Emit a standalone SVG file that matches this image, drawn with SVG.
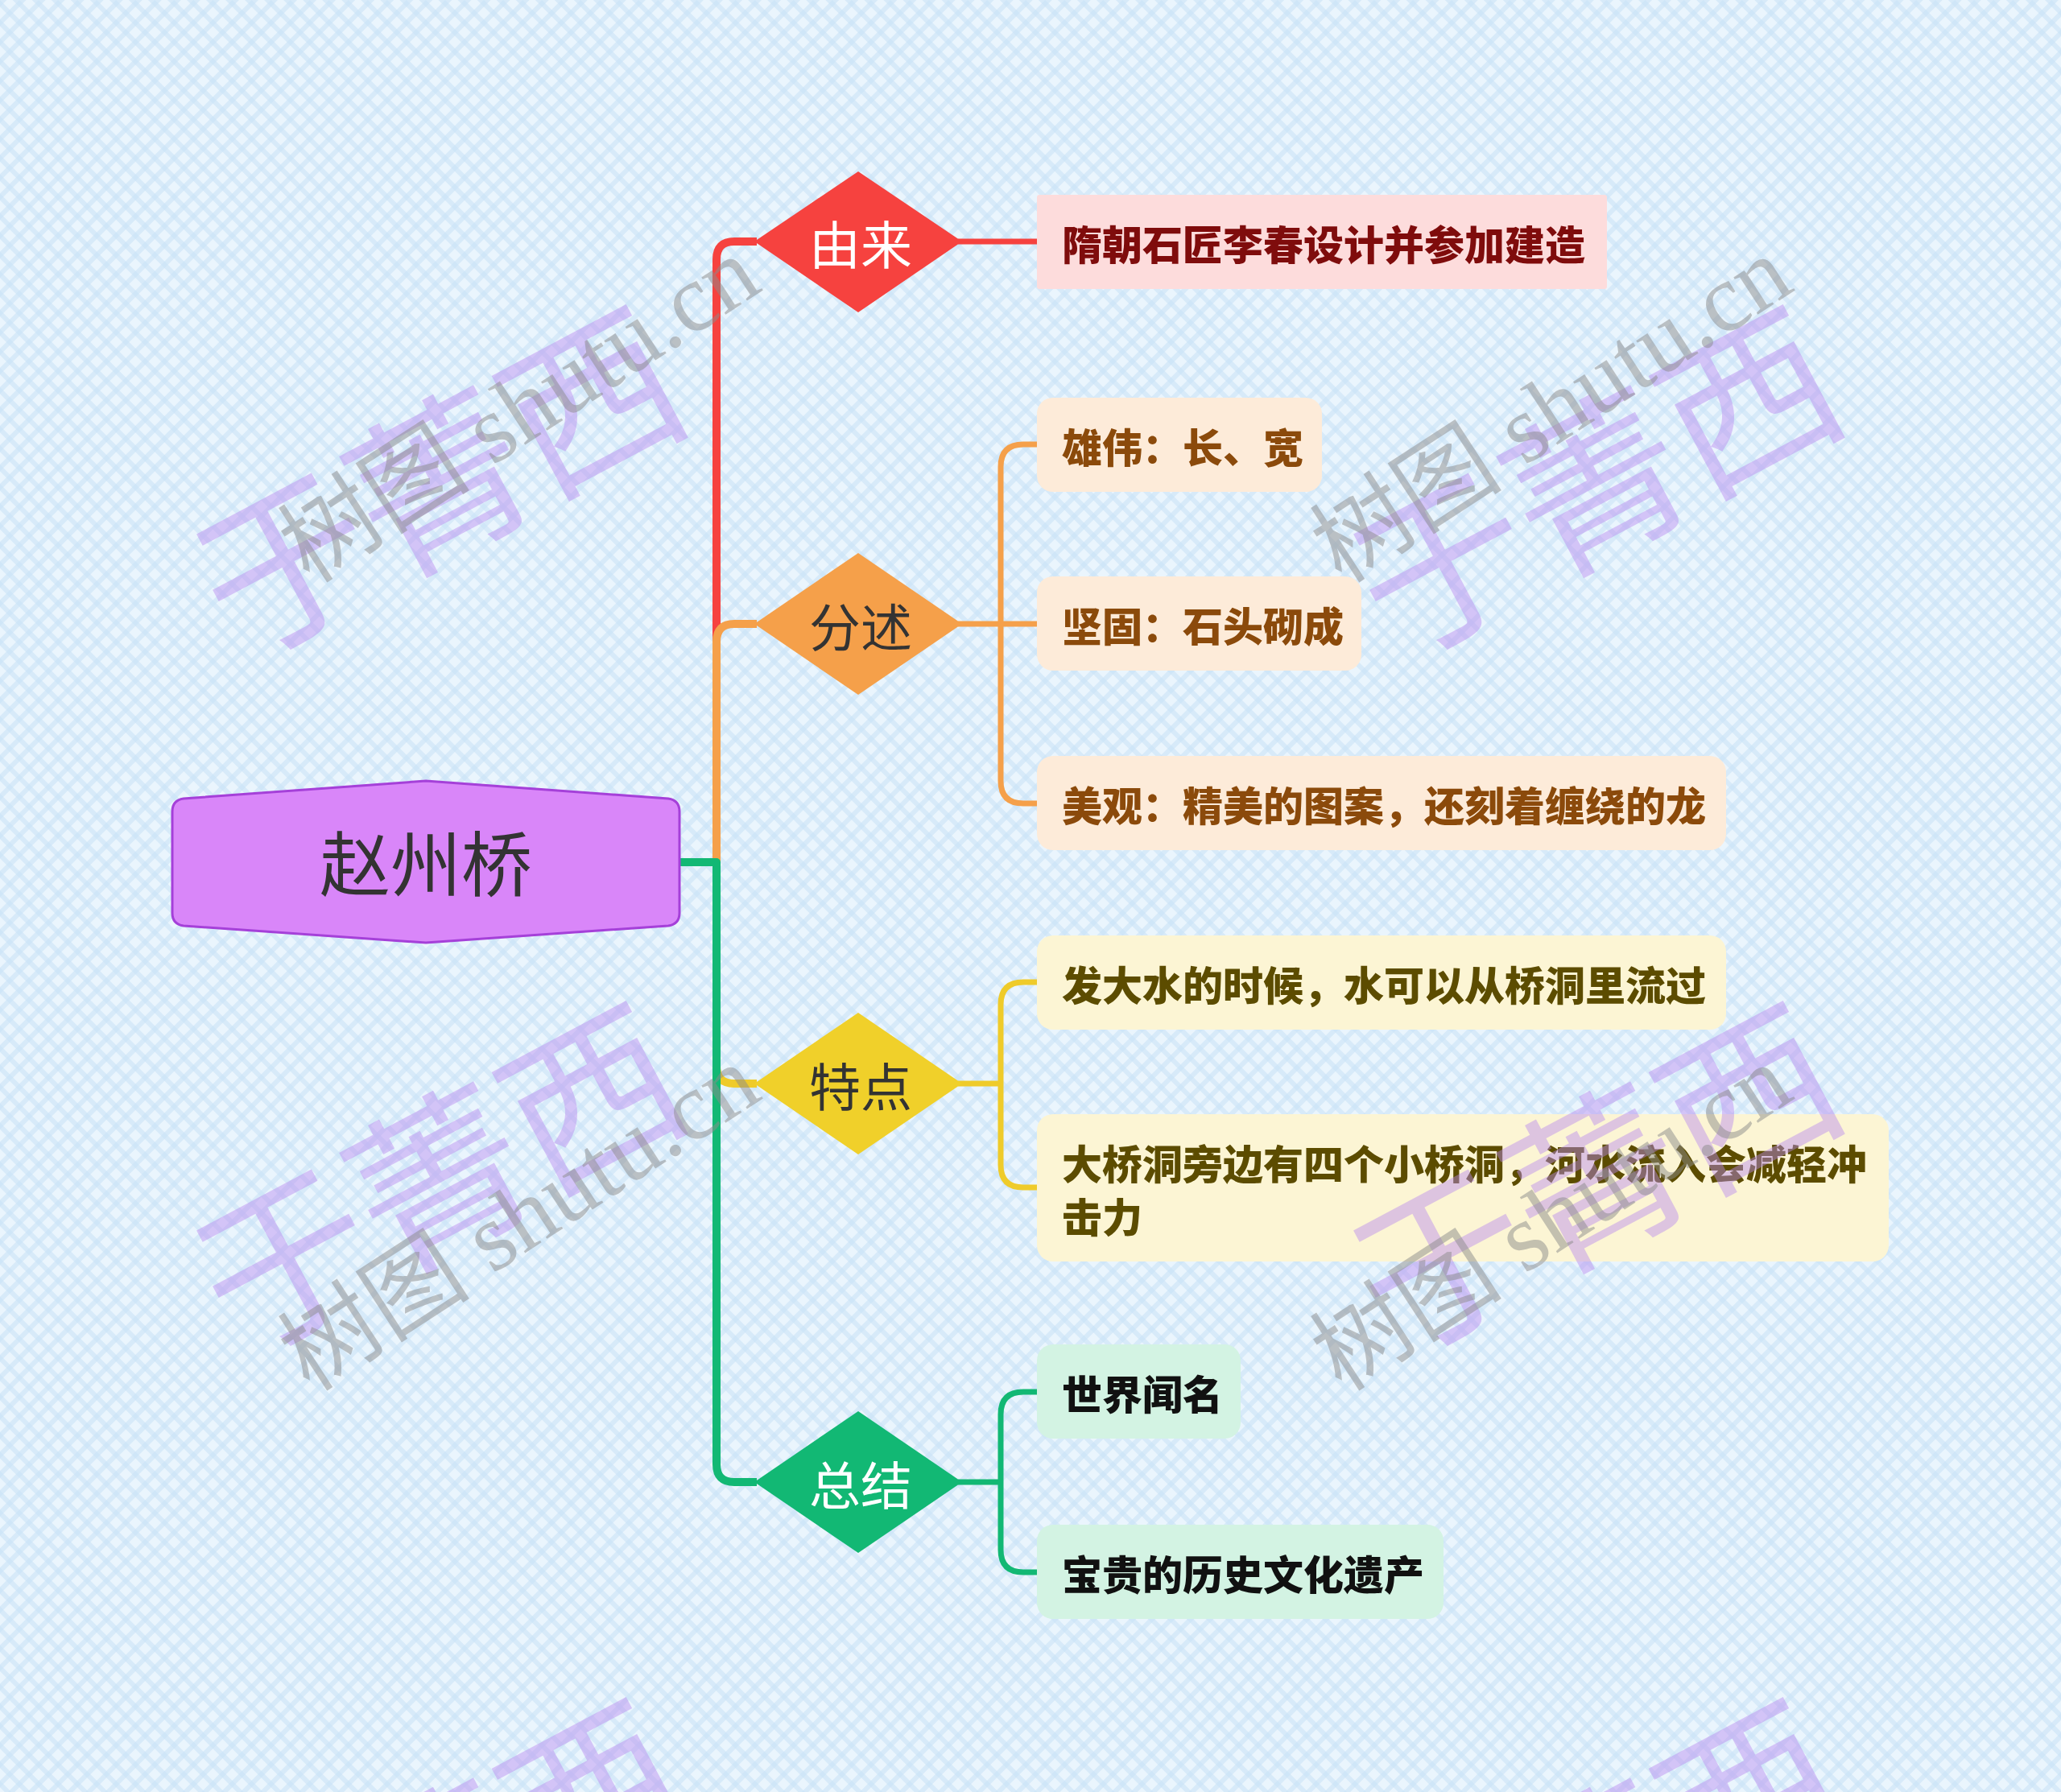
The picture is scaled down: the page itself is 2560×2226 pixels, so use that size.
<svg xmlns="http://www.w3.org/2000/svg" width="2560" height="2226" viewBox="0 0 2560 2226">
<defs>
<pattern id="bg" width="17" height="17" patternUnits="userSpaceOnUse" patternTransform="rotate(45)">
<rect width="17" height="17" fill="#EAF5FD"/>
<rect width="17" height="6" fill="#C9E3F6" opacity="0.6"/>
<rect width="6" height="17" fill="#C9E3F6" opacity="0.6"/>
</pattern>
<style>
.main{fill:none;stroke-width:10;stroke-linejoin:round}
.sub{fill:none;stroke-width:7;stroke-linejoin:round}
.dt{font-family:"Noto Sans CJK SC","Noto Sans",sans-serif;font-size:64px;text-anchor:middle;dominant-baseline:central}
.lt{font-family:"Noto Sans CJK SC","Noto Sans",sans-serif;font-size:50px;font-weight:900;dominant-baseline:central}
.wm1{font-family:"Noto Sans CJK SC",sans-serif;font-size:215px;fill:#B98AF0;opacity:0.45;text-anchor:middle;dominant-baseline:central}
.wm2{font-family:"Liberation Serif","Noto Sans CJK SC",serif;font-size:120px;fill:#8C8C8C;opacity:0.5;text-anchor:middle;dominant-baseline:central}
</style>
</defs>
<rect width="2560" height="2226" fill="url(#bg)"/>

<g id="connectors">
<path class="main" stroke="#F6423F" d="M844 1071 H890 V322 Q890 300 912 300 H940"/>
<path class="main" stroke="#F5A04A" d="M844 1071 H890 V797 Q890 775 912 775 H940"/>
<path class="main" stroke="#EFCB2A" d="M844 1071 H890 V1324 Q890 1346 912 1346 H940"/>
<path class="main" stroke="#12B874" d="M844 1071 H890 V1819 Q890 1841 912 1841 H940"/>
<path class="sub" stroke="#F6423F" d="M1190 300 H1290"/>
<path class="sub" stroke="#F5A04A" d="M1190 775 H1290 M1243 775 V580 Q1243 552 1271 552 H1290 M1243 775 V970 Q1243 998 1271 998 H1290"/>
<path class="sub" stroke="#EFCB2A" d="M1190 1346 H1243 V1248 Q1243 1220 1271 1220 H1290 M1243 1346 V1447 Q1243 1475 1271 1475 H1290"/>
<path class="sub" stroke="#12B874" d="M1190 1841 H1243 V1757 Q1243 1729 1271 1729 H1290 M1243 1841 V1925 Q1243 1953 1271 1953 H1290"/>
</g>

<g id="root">
<path d="M529 970 L830 992 Q844 994 844 1008 L844 1134 Q844 1148 830 1150 L529 1171 L228 1150 Q214 1148 214 1134 L214 1008 Q214 994 228 992 Z" fill="#D986F9" stroke="#A540D9" stroke-width="3"/>
<text x="529" y="1067" font-family="Noto Sans CJK SC,sans-serif" font-size="88" fill="#333333" text-anchor="middle" dominant-baseline="central">赵州桥</text>
</g>

<g id="n-youlai">
<polygon points="1066,213 1195,300 1066,388 937,300" fill="#F6423F"/>
<text class="dt" x="1069" y="300" fill="#FFFFFF">由来</text>
</g>
<g id="n-fenshu">
<polygon points="1066,687 1195,775 1066,863 937,775" fill="#F5A04A"/>
<text class="dt" x="1069" y="775" fill="#333333">分述</text>
</g>
<g id="n-tedian">
<polygon points="1066,1258 1195,1346 1066,1434 937,1346" fill="#F0D02A"/>
<text class="dt" x="1069" y="1346" fill="#333333">特点</text>
</g>
<g id="n-zongjie">
<polygon points="1066,1753 1195,1841 1066,1929 937,1841" fill="#12B874"/>
<text class="dt" x="1069" y="1841" fill="#FFFFFF">总结</text>
</g>

<g id="l1">
<rect x="1288" y="242" width="708" height="117" rx="3" fill="#FDDCDC"/>
<text class="lt" x="1319" y="301" fill="#7F0C0C">隋朝石匠李春设计并参加建造</text>
</g>
<g id="l2">
<rect x="1288" y="494" width="354" height="117" rx="20" fill="#FDEBD9"/>
<text class="lt" x="1319" y="553" fill="#8B4A0B">雄伟：长、宽</text>
</g>
<g id="l3">
<rect x="1288" y="716" width="403" height="117" rx="20" fill="#FDEBD9"/>
<text class="lt" x="1319" y="775" fill="#8B4A0B">坚固：石头砌成</text>
</g>
<g id="l4">
<rect x="1288" y="939" width="856" height="117" rx="20" fill="#FDEBD9"/>
<text class="lt" x="1319" y="998" fill="#8B4A0B">美观：精美的图案，还刻着缠绕的龙</text>
</g>
<g id="l5">
<rect x="1288" y="1162" width="856" height="117" rx="20" fill="#FCF5D4"/>
<text class="lt" x="1319" y="1221" fill="#5C4C00">发大水的时候，水可以从桥洞里流过</text>
</g>
<g id="l6">
<rect x="1288" y="1384" width="1058" height="183" rx="20" fill="#FCF5D4"/>
<text class="lt" x="1319" y="1443" fill="#5C4C00">大桥洞旁边有四个小桥洞，河水流入会减轻冲</text>
<text class="lt" x="1319" y="1509" fill="#5C4C00">击力</text>
</g>
<g id="l7">
<rect x="1288" y="1670" width="253" height="117" rx="20" fill="#D3F3E3"/>
<text class="lt" x="1319" y="1729" fill="#111111">世界闻名</text>
</g>
<g id="l8">
<rect x="1288" y="1894" width="505" height="117" rx="20" fill="#D3F3E3"/>
<text class="lt" x="1319" y="1953" fill="#111111">宝贵的历史文化遗产</text>
</g>

<g id="watermarks">
<text class="wm1" transform="translate(539 588) rotate(-28)">于菁西</text>
<text class="wm1" transform="translate(1976 588) rotate(-28)">于菁西</text>
<text class="wm1" transform="translate(539 1453) rotate(-28)">于菁西</text>
<text class="wm1" transform="translate(1976 1453) rotate(-28)">于菁西</text>
<text class="wm1" transform="translate(539 2318) rotate(-28)">于菁西</text>
<text class="wm1" transform="translate(1976 2318) rotate(-28)">于菁西</text>
<text class="wm2" transform="translate(645 509) rotate(-33)">树图 shutu.cn</text>
<text class="wm2" transform="translate(1927 509) rotate(-33)">树图 shutu.cn</text>
<text class="wm2" transform="translate(645 1513) rotate(-33)">树图 shutu.cn</text>
<text class="wm2" transform="translate(1927 1513) rotate(-33)">树图 shutu.cn</text>
</g>
</svg>
